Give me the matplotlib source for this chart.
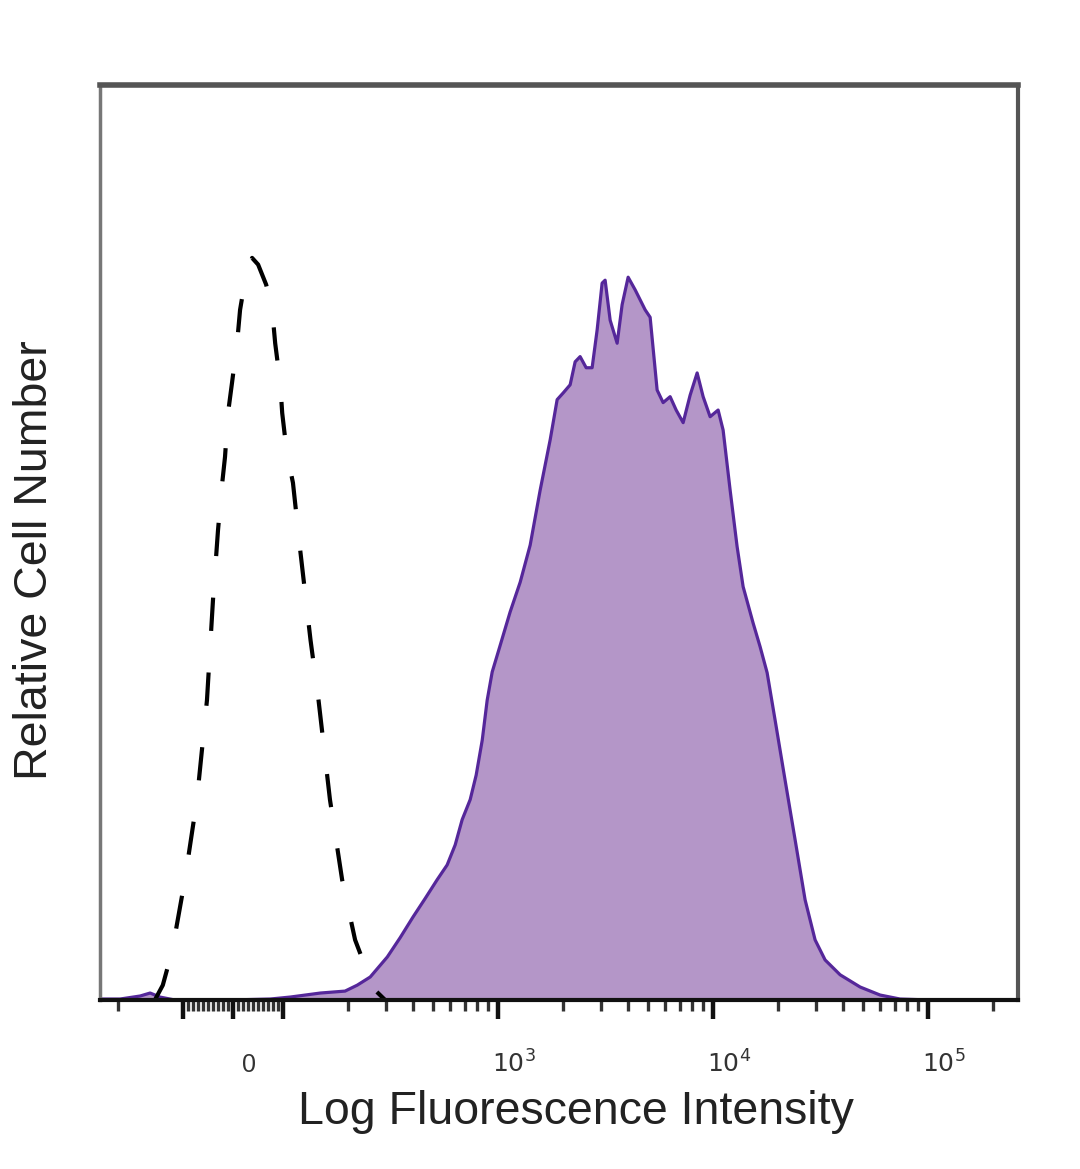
import numpy as np
import matplotlib.pyplot as plt
import matplotlib.transforms as mtransforms

# isotype control (dashed), fluorescence intensity vs relative cell number
iso_x = [-135, -124, -112, -96, -72, -52, -40, -30, -22, -16, -10, -2, 8, 14, 24, 38, 50,
         66, 78, 84, 94, 98, 104, 111, 120, 134, 146, 165, 188, 216, 249, 268, 298]
iso_y = [0, 2.0, 6.7, 16.2, 27.0, 40.4, 53.9, 63.3, 69.4, 73.2, 79.1, 83.2, 88.5, 93.0, 97.0, 100, 99.1,
         96.4, 93.0, 88.5, 83.2, 79.1, 73.7, 69.7, 60.6, 48.5, 40.4, 27.0, 16.2, 8.1, 3.4, 1.3, 0]

# stained sample (filled purple)
stain_x = [-243, -196, -158, -142, -128, -109, -6, 74, 108, 149, 194, 221, 254, 305, 350, 402, 458,
           520, 579, 631, 680, 741, 790, 843, 889, 938, 1022, 1137, 1266, 1409, 1568, 1746, 1881,
           2006, 2162, 2281, 2406, 2567, 2736, 2887, 3045, 3145, 3319, 3577, 3773, 4024, 4338, 4829,
           5093, 5489, 5853, 6310, 6730, 7254, 7816, 8427, 8985, 9683, 10551, 11130, 11999, 12929,
           13789, 15346, 16544, 17835, 19428, 21623, 24063, 26784, 29813, 33180, 38970, 48290,
           59800, 74100, 102150, 262200]
stain_y = [0.13, 0.13, 0.54, 0.94, 0.4, 0, 0, 0.13, 0.4, 0.94, 1.2, 2.0, 3.1, 5.8, 8.4, 11.2, 13.7,
           16.2, 18.2, 20.9, 24.3, 27.0, 30.3, 35.0, 40.4, 44.2, 47.8, 52.3, 56.3, 61.3, 68.7, 75.5, 80.9,
           81.8, 82.9, 86.0, 86.7, 85.2, 85.2, 90.3, 96.6, 97.0, 91.6, 88.5, 93.7, 97.4, 95.7, 93.0,
           92.0, 82.2, 80.5, 81.3, 79.5, 77.8, 81.5, 84.5, 81.3, 78.6, 79.5, 76.8, 68.7, 61.1,
           55.7, 50.8, 47.6, 44.1, 37.7, 29.6, 21.6, 13.5, 8.1, 5.4, 3.4, 1.75,
           0.67, 0.13, 0, 0]

major_ticks = [-100, 0, 100, 1e3, 1e4, 1e5]
major_labels = ['', '0', '', r'$10^{3}$', r'$10^{4}$', r'$10^{5}$']
minor_ticks = ([-200] + [-v for v in range(10, 100, 10)] + list(range(10, 100, 10))
               + [m * 10 ** e for e in (2, 3, 4) for m in range(2, 10)] + [2e5])

plt.rcParams['font.family'] = ['Liberation Sans', 'DejaVu Sans']
fig = plt.figure(figsize=(10.8, 11.69), dpi=100)
ax = fig.add_axes([100 / 1080, 169 / 1169, 918 / 1080, 915 / 1169])
ax.set_xscale('symlog', linthresh=100, linscale=0.21)

ax.fill_between(stain_x, stain_y, 0, color='#b496c8', lw=0)
ax.plot(stain_x, stain_y, color='#55279a', lw=2.3)
ax.plot(iso_x, iso_y, color='black', lw=3, linestyle=(0, (8, 10)))

ax.set_xlim(-243, 2.62e5)
ax.set_ylim(0, 123.3)

ax.set_xticks(major_ticks)
ax.set_xticklabels(major_labels)
ax.set_xticks(minor_ticks, minor=True)
ax.set_yticks([])
ax.tick_params(axis='x', which='major', direction='out', length=14, width=3.2, color='#111',
               labelsize=18, pad=38, labelcolor='#333')
ax.tick_params(axis='x', which='minor', direction='out', length=8, width=2.4, color='#333')
shift = mtransforms.ScaledTranslation(16 / 100, 0, fig.dpi_scale_trans)
for lab in ax.get_xticklabels():
    lab.set_va('baseline')
    lab.set_transform(lab.get_transform() + shift)

for side, c, w in [('top', '#555', 4), ('left', '#777', 2.5), ('right', '#555', 3), ('bottom', '#111', 3)]:
    ax.spines[side].set_color(c)
    ax.spines[side].set_linewidth(w)

fig.text(576 / 1080, 1 - 1112 / 1169, 'Log Fluorescence Intensity', ha='center', va='center',
         fontsize=33.5, color='#222')
fig.text(35 / 1080, 1 - 560 / 1169, 'Relative Cell Number', ha='center', va='center',
         rotation=90, fontsize=33.5, color='#222')

fig.savefig('out.png', dpi=100)
